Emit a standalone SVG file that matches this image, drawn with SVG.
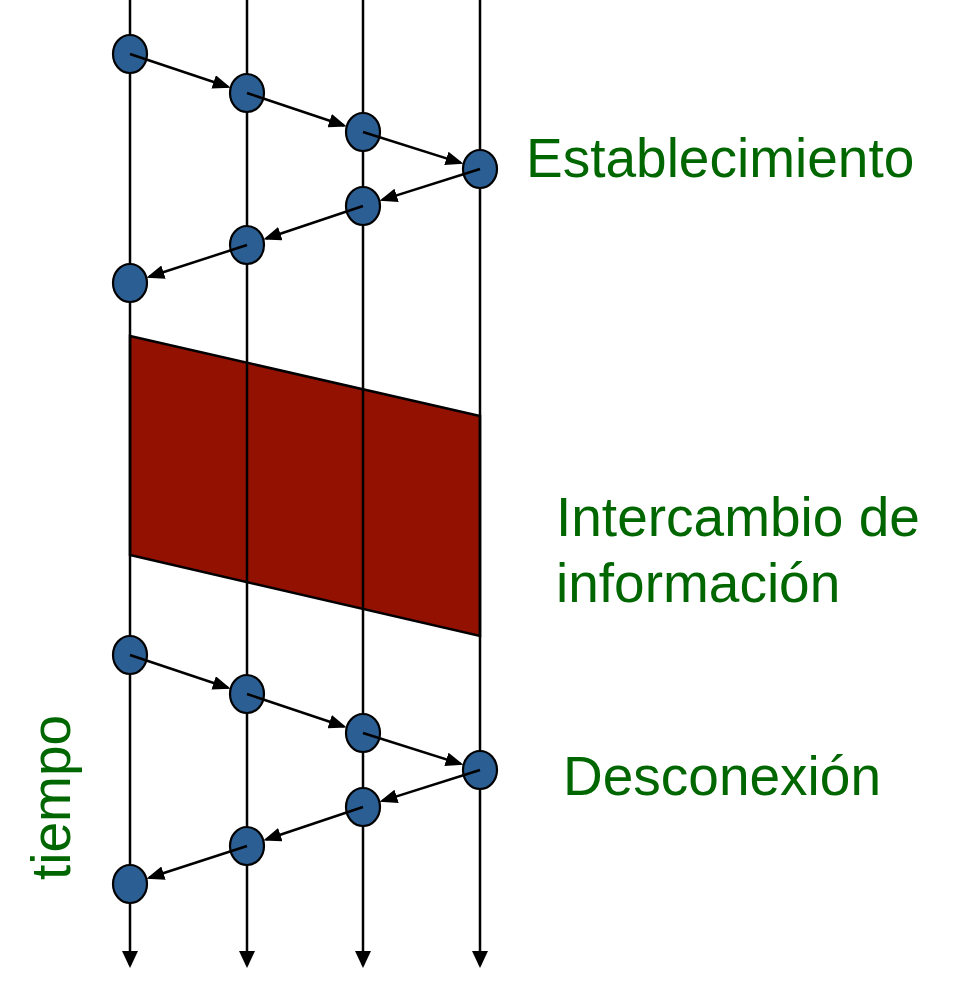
<svg xmlns="http://www.w3.org/2000/svg" width="953" height="998" viewBox="0 0 953 998">
<style>
.life{stroke:#000;stroke-width:2.5;fill:none}
.msg{stroke:#000;stroke-width:2.5;fill:none;marker-end:url(#ah)}
.node{fill:#2B5E92;stroke:#000;stroke-width:2.2}
.lbl{font-family:"Liberation Sans",Arial,sans-serif;font-size:55px;fill:#006600}
</style>
<defs>
<marker id="ah" markerUnits="userSpaceOnUse" viewBox="0 0 18 14" markerWidth="18" markerHeight="14" refX="15" refY="7" orient="auto"><path d="M0,0 L18,7 L0,14 z" fill="#000"/></marker>
<marker id="down" markerUnits="userSpaceOnUse" viewBox="0 0 17 16" markerWidth="17" markerHeight="16" refX="14" refY="8" orient="auto"><path d="M0,0 L17,8 L0,16 z" fill="#000"/></marker>
</defs>
<g id="info-block">
<polygon points="130,336 480,416 480,636 130,555" fill="#931100" stroke="#000" stroke-width="2.5"/>
</g>
<g id="lifelines">
<line class="life" x1="130" y1="0" x2="130" y2="965" marker-end="url(#down)"/>
<line class="life" x1="247" y1="0" x2="247" y2="965" marker-end="url(#down)"/>
<line class="life" x1="363" y1="0" x2="363" y2="965" marker-end="url(#down)"/>
<line class="life" x1="480" y1="0" x2="480" y2="965" marker-end="url(#down)"/>
</g>
<g id="n1"><ellipse class="node" cx="130" cy="54" rx="17" ry="19"/></g>
<g id="n2"><ellipse class="node" cx="247" cy="93" rx="17" ry="19"/></g>
<g id="n3"><ellipse class="node" cx="363" cy="132" rx="17" ry="19"/></g>
<g id="n4"><ellipse class="node" cx="480" cy="169" rx="17" ry="19"/></g>
<g id="n5"><ellipse class="node" cx="363" cy="206" rx="17" ry="19"/></g>
<g id="n6"><ellipse class="node" cx="247" cy="245" rx="17" ry="19"/></g>
<g id="n7"><ellipse class="node" cx="130" cy="283" rx="17" ry="19"/></g>
<g id="d1"><ellipse class="node" cx="130" cy="655" rx="17" ry="19"/></g>
<g id="d2"><ellipse class="node" cx="247" cy="694" rx="17" ry="19"/></g>
<g id="d3"><ellipse class="node" cx="363" cy="733" rx="17" ry="19"/></g>
<g id="d4"><ellipse class="node" cx="480" cy="770" rx="17" ry="19"/></g>
<g id="d5"><ellipse class="node" cx="363" cy="807" rx="17" ry="19"/></g>
<g id="d6"><ellipse class="node" cx="247" cy="846" rx="17" ry="19"/></g>
<g id="d7"><ellipse class="node" cx="130" cy="884" rx="17" ry="19"/></g>
<g id="connectors">
<line class="msg" x1="130" y1="54" x2="227.9" y2="86.7"/>
<line class="msg" x1="247" y1="93" x2="343.9" y2="125.5"/>
<line class="msg" x1="363" y1="132" x2="460.7" y2="162.9"/>
<line class="msg" x1="480" y1="169" x2="382.3" y2="199.9"/>
<line class="msg" x1="363" y1="206" x2="266.1" y2="238.5"/>
<line class="msg" x1="247" y1="245" x2="149.2" y2="276.8"/>
<line class="msg" x1="130" y1="655" x2="227.9" y2="687.7"/>
<line class="msg" x1="247" y1="694" x2="343.9" y2="726.5"/>
<line class="msg" x1="363" y1="733" x2="460.7" y2="763.9"/>
<line class="msg" x1="480" y1="770" x2="382.3" y2="800.9"/>
<line class="msg" x1="363" y1="807" x2="266.1" y2="839.5"/>
<line class="msg" x1="247" y1="846" x2="149.2" y2="877.8"/>
</g>
<g id="labels">
<text class="lbl" x="526" y="177">Establecimiento</text>
<text class="lbl" x="556" y="536">Intercambio de</text>
<text class="lbl" x="556" y="602">información</text>
<text class="lbl" x="563" y="795">Desconexión</text>
<text class="lbl" transform="translate(70,880) rotate(-90)" x="0" y="0">tiempo</text>
</g>
</svg>
